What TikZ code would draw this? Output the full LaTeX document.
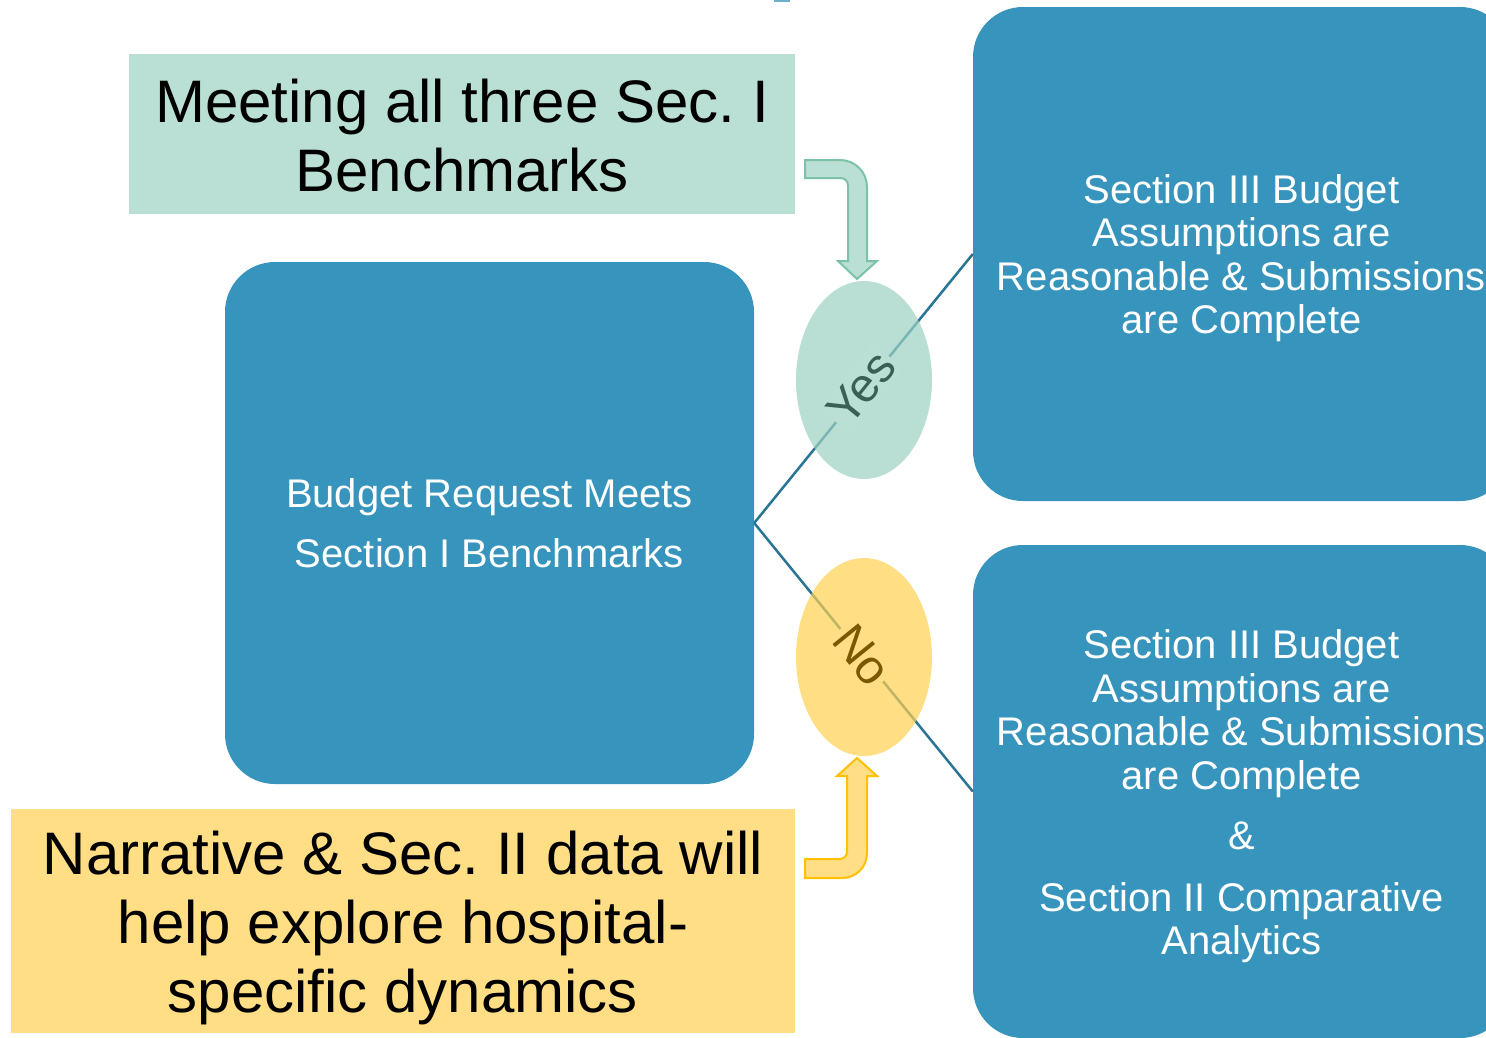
\documentclass[tikz,border=0pt]{standalone}
\usepackage{fontspec}
\setmainfont{Liberation Sans}
\usetikzlibrary{shapes.geometric}
\frenchspacing
\definecolor{boxblue}{RGB}{55,148,188}
\definecolor{linkblue}{RGB}{42,117,150}
\definecolor{mint}{RGB}{186,223,212}
\definecolor{mintbase}{RGB}{156,209,194}
\definecolor{mintedge}{RGB}{124,194,166}
\definecolor{mintink}{RGB}{58,95,86}
\definecolor{sun}{RGB}{255,222,133}
\definecolor{sunbase}{RGB}{255,208,81}
\definecolor{sunedge}{RGB}{255,192,0}
\definecolor{sunink}{RGB}{122,88,0}
\definecolor{tickblue}{RGB}{106,175,203}
\begin{document}
\begin{tikzpicture}[x=1pt,y=-1pt,
  bluebox/.style={fill=boxblue, rounded corners=50pt, text=white, align=center, inner sep=0pt},
  note/.style={inner sep=0pt, align=center, text=black, font=\fontsize{60}{69}\selectfont},
  link/.style={draw=linkblue, line width=2.5pt},
  choice/.style={ellipse, inner sep=0pt, minimum width=136pt, minimum height=198pt, fill opacity=0.7},
  tag/.style={inner sep=3pt, font=\fontsize{48}{48}\selectfont},
  bent/.style={line width=2pt, line join=miter}]
\clip (0,0) rectangle (1486,1037);
\fill[white] (0,0) rectangle (1486,1037);

% small tab at the top edge
\fill[tickblue] (774,-3) rectangle (790,1.5);

% headline notes
\node[note, fill=mint, minimum width=666pt, minimum height=160pt] (bench) at (462,134)
  {\rule{0pt}{46pt}Meeting all three Sec. I\\Benchmarks};
\node[note, fill=sun, minimum width=784pt, minimum height=224pt] (narr) at (403,921)
  {\rule{0pt}{58pt}Narrative \& Sec. II data will\\help explore hospital-\\specific dynamics};

% main decision boxes
\node[bluebox, minimum width=529pt, minimum height=522pt, font=\fontsize{40}{60}\selectfont] (req) at (489.5,523)
  {Budget Request Meets\\Section I Benchmarks};
\node[bluebox, minimum width=537pt, minimum height=494pt, font=\fontsize{40}{43.5}\selectfont] (pass) at (1241.5,254)
  {\rule{0pt}{37pt}Section III Budget\\Assumptions are\\Reasonable \& Submissions\\are Complete};
\node[bluebox, minimum width=537pt, minimum height=493pt, font=\fontsize{40}{43.5}\selectfont] (fail) at (1241.5,791.5)
  {\rule{0pt}{39pt}Section III Budget\\Assumptions are\\Reasonable \& Submissions\\are Complete\\[16.5pt]\&\\[18.5pt]Section II Comparative\\Analytics};

% branches
\draw[link] (req.east) -- (pass.west);
\draw[link] (req.east) -- (fail.west);

% outcome ovals
\node[choice, fill=mintbase] (yes) at (864,380) {};
\node[choice, fill=sunbase] (no) at (864,657) {};
\node[tag, text=mintink, fill=mint, rotate=51] (yeslbl) at (861,388) {Yes};
\node[tag, text=sunink, fill=sun, rotate=-51] (nolbl) at (862,655) {No};

% bent block arrows feeding the ovals
\draw[bent, fill=mint, draw=mintedge]
  (805,160) -- (840,160) .. controls (855,160) and (867,172) .. (867,187)
  -- (867,261) -- (877,261) -- (857,279) -- (838,261) -- (848,261)
  -- (848,186) .. controls (848,181) and (845,178) .. (840,178) -- (805,178) -- cycle;
\draw[bent, fill=sun, draw=sunedge]
  (805,859) -- (839,859) .. controls (844,859) and (847,856) .. (847,851)
  -- (847,776) -- (837,776) -- (857,758) -- (877,776) -- (867,776)
  -- (867,853) .. controls (867,867) and (856,878) .. (842,878) -- (805,878) -- cycle;
\end{tikzpicture}
\end{document}
